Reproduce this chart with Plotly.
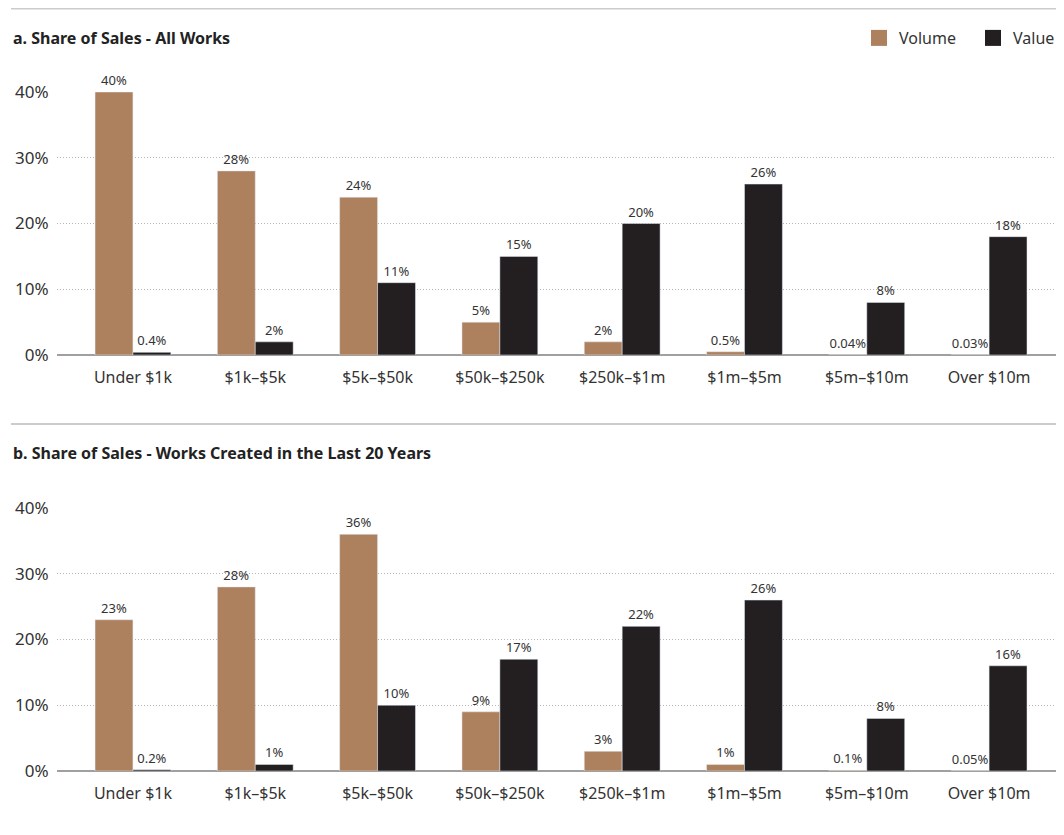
import plotly.graph_objects as go

bands = ['Under $1k', '$1k–$5k', '$5k–$50k', '$50k–$250k', '$250k–$1m', '$1m–$5m', '$5m–$10m', 'Over $10m']

all_volume = [40, 28, 24, 5, 2, 0.5, 0.04, 0.03]
all_value = [0.4, 2, 11, 15, 20, 26, 8, 18]
all_volume_txt = ['40%', '28%', '24%', '5%', '2%', '0.5%', '0.04%', '0.03%']
all_value_txt = ['0.4%', '2%', '11%', '15%', '20%', '26%', '8%', '18%']

new_volume = [23, 28, 36, 9, 3, 1, 0.1, 0.05]
new_value = [0.2, 1, 10, 17, 22, 26, 8, 16]
new_volume_txt = ['23%', '28%', '36%', '9%', '3%', '1%', '0.1%', '0.05%']
new_value_txt = ['0.2%', '1%', '10%', '17%', '22%', '26%', '8%', '16%']

y_ticks = [0, 10, 20, 30, 40]
y_tick_txt = ['0%', '10%', '20%', '30%', '40%']

VOL = '#ad815e'
VAL = '#231f20'
FONT = 'Noto Sans'
W, H = 1048.0, 819.0   # page body keeps its 8px margin on every side

def py(px):
    return 1 - px / H

fig = go.Figure()

def add_panel(vol, val, vtxt, wtxt, xa, ya):
    for ys, txt, nm, c in [(vol, vtxt, 'Volume', VOL), (val, wtxt, 'Value', VAL)]:
        fig.add_trace(go.Bar(x=bands, y=ys, text=txt, name=nm, marker_color=c,
                             textposition='outside', cliponaxis=False,
                             textfont=dict(size=13, color='#333'), showlegend=False,
                             xaxis=xa, yaxis=ya, hoverinfo='skip'))

add_panel(all_volume, all_value, all_volume_txt, all_value_txt, 'x', 'y')
add_panel(new_volume, new_value, new_volume_txt, new_value_txt, 'x2', 'y2')

# legend entries with larger squares, one legend box each
for nm, c, lg in [('Volume', VOL, 'legend'), ('Value', VAL, 'legend2')]:
    fig.add_trace(go.Scatter(x=[None], y=[None], mode='markers', name=nm, legend=lg,
                             marker=dict(symbol='square', size=18, color=c),
                             xaxis='x', yaxis='y'))

xcommon = dict(domain=[49/W, 1.0], range=[-0.621, 7.547], showgrid=False, automargin=False,
               showline=False, zeroline=False, ticks='outside', ticklen=8, tickcolor='rgba(0,0,0,0)',
               tickfont=dict(size=16, color='#333', family=FONT), fixedrange=True)
ycommon = dict(range=[0, 40], tickvals=y_ticks, ticktext=y_tick_txt, showgrid=True, automargin=False,
               gridcolor='#b5b5b5', griddash='1px,2px', gridwidth=1, zeroline=True,
               zerolinecolor='#a0a0a0', zerolinewidth=1.5, ticks='outside', ticklen=4,
               tickcolor='rgba(0,0,0,0)', tickfont=dict(size=17, color='#333', family=FONT),
               fixedrange=True)

leg = dict(orientation='h', xanchor='left', y=py(30), yanchor='middle',
           font=dict(size=16, color='#333', family=FONT), itemwidth=30,
           bgcolor='rgba(0,0,0,0)')

fig.update_layout(
    width=W, height=H,
    margin=dict(l=0, r=0, t=0, b=0, autoexpand=False),
    paper_bgcolor='white', plot_bgcolor='white',
    font=dict(family=FONT, color='#333'),
    barmode='group', bargap=0.38, bargroupgap=0,
    xaxis=dict(xcommon, anchor='y'),
    yaxis=dict(ycommon, domain=[py(347), py(84)], anchor='x'),
    xaxis2=dict(xcommon, anchor='y2'),
    yaxis2=dict(ycommon, domain=[py(763), py(500)], anchor='x2'),
    legend=dict(leg, x=851/W),
    legend2=dict(leg, x=965/W),
    showlegend=True,
    shapes=[
        dict(type='line', xref='paper', yref='paper', x0=3/W, x1=1, y0=py(0.5), y1=py(0.5),
             line=dict(color='#cccccc', width=2)),
        dict(type='line', xref='paper', yref='paper', x0=3/W, x1=1, y0=py(416), y1=py(416),
             line=dict(color='#cccccc', width=2)),
    ],
    annotations=[
        dict(text='<b>a. Share of Sales - All Works</b>', xref='paper', yref='paper',
             x=3/W, y=py(30), xanchor='left', yanchor='middle', showarrow=False,
             font=dict(size=16, color='#222', family=FONT)),
        dict(text='<b>b. Share of Sales - Works Created in the Last 20 Years</b>', xref='paper', yref='paper',
             x=3/W, y=py(445), xanchor='left', yanchor='middle', showarrow=False,
             font=dict(size=16, color='#222', family=FONT)),
    ],
)

fig.write_html('out.html')
